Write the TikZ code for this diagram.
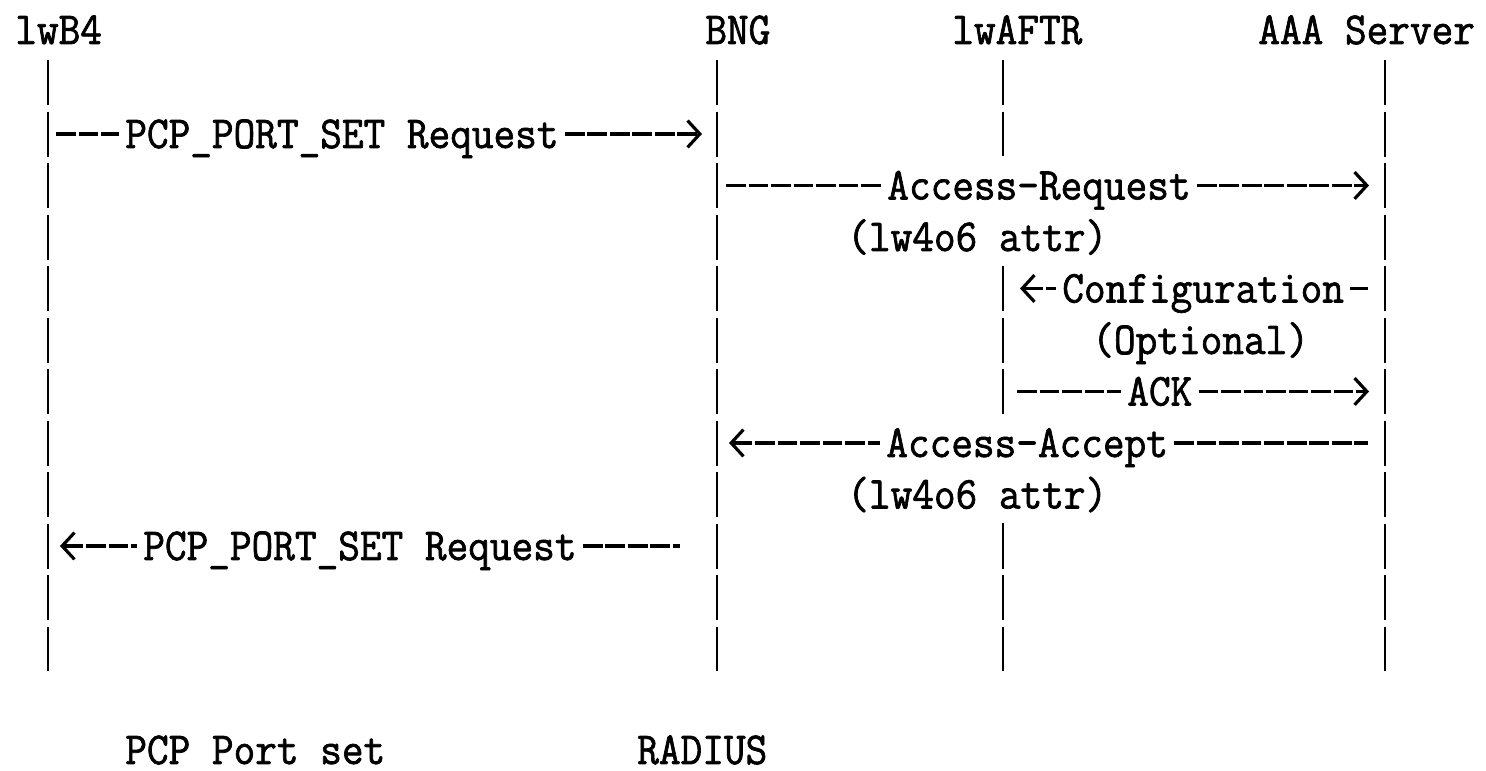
\documentclass[tikz,border=0pt]{standalone}
\usepackage{fontspec}
\newfontfamily\asciifont[FakeStretch=0.92,FakeBold=1.5]{Latin Modern Mono}
\usetikzlibrary{calc,arrows.meta}

\begin{document}
\begin{tikzpicture}[x=0.01cm,y=-0.01cm,line width=0.8pt,
  >={Straight Barb[length=3.5pt,width=7.6pt]},
  every node/.style={font=\asciifont\fontsize{13pt}{16pt}\selectfont,
    inner xsep=1.4pt,inner ysep=0pt,text height=7.97pt,text depth=0pt,anchor=base west},
  lifeline/.style={dash pattern=on 12.8pt off 1.85pt},
  msg/.style={line width=0.9pt,dash pattern=on 5.6pt off 0.8pt}]
\useasboundingbox (0,0) rectangle (1486,771);

\node (lwb4)   at (9,44)    {lwB4};
\node (bng)    at (699,44)  {BNG};
\node (lwaftr) at (946,44)  {lwAFTR};
\node (aaa)    at (1252,44) {AAA Server};

\coordinate (b4)   at (48,60);   \coordinate (b4-end)   at (48,671);
\coordinate (br)   at (717,60);  \coordinate (br-end)   at (717,671);
\coordinate (srv)  at (1385,60); \coordinate (srv-end)  at (1385,671);
\coordinate (aftr) at (1003,60);
\coordinate (aftr-a) at (1003,156.5); \coordinate (aftr-b) at (1003,266);
\coordinate (aftr-c) at (1003,414);   \coordinate (aftr-d) at (1003,523.5);
\coordinate (aftr-end) at (1003,671);

\draw[lifeline]
      (b4) -- (b4-end)
      (br) -- (br-end)
      (srv) -- (srv-end)
      (aftr) -- (aftr-a)
      (aftr-b) -- (aftr-c)
      (aftr-d) -- (aftr-end);

\node (req)     at (119,148)   {PCP\_PORT\_SET Request};
\node (acreq)   at (881,199.5) {Access-Request};
\node (attr1)   at (841,251)   {(lw4o6 attr)};
\node (conf)    at (1056,302.5) {Configuration};
\node (opt)     at (1086,354)  {(Optional)};
\node (ack)     at (1121,405.5) {ACK};
\node (acacc)   at (880,457)   {Access-Accept};
\node (attr2)   at (841,508.5) {(lw4o6 attr)};
\node (resp)    at (137,560)   {PCP\_PORT\_SET Request};

\draw[msg] ($(b4 |- req.west)+(8,0)$) -- (req.west);
\draw[msg,->] (req.east) -- ($(br |- req.west)+(-15,0)$);
\draw[msg] ($(br |- acreq.west)+(9,0)$) -- (acreq.west);
\draw[msg,->] (acreq.east) -- ($(srv |- acreq.west)+(-16,0)$);
\draw[msg,<-] ($(aftr |- conf.west)+(17,0)$) -- (conf.west);
\draw[msg] (conf.east) -- ($(srv |- conf.west)+(-17,0)$);
\draw[msg] ($(aftr |- ack.west)+(14,0)$) -- (ack.west);
\draw[msg,->] (ack.east) -- ($(srv |- ack.west)+(-16,0)$);
\draw[msg,<-] ($(br |- acacc.west)+(12,0)$) -- (acacc.west);
\draw[msg] (acacc.east) -- ($(srv |- acacc.west)+(-17,0)$);
\draw[msg,<-] ($(b4 |- resp.west)+(12,0)$) -- (resp.west);
\draw[msg] (resp.east) -- ($(br |- resp.west)+(-37,0)$);

\node (pcp)    at (119,764) {PCP Port set};
\node (radius) at (631,764) {RADIUS};
\end{tikzpicture}
\end{document}
